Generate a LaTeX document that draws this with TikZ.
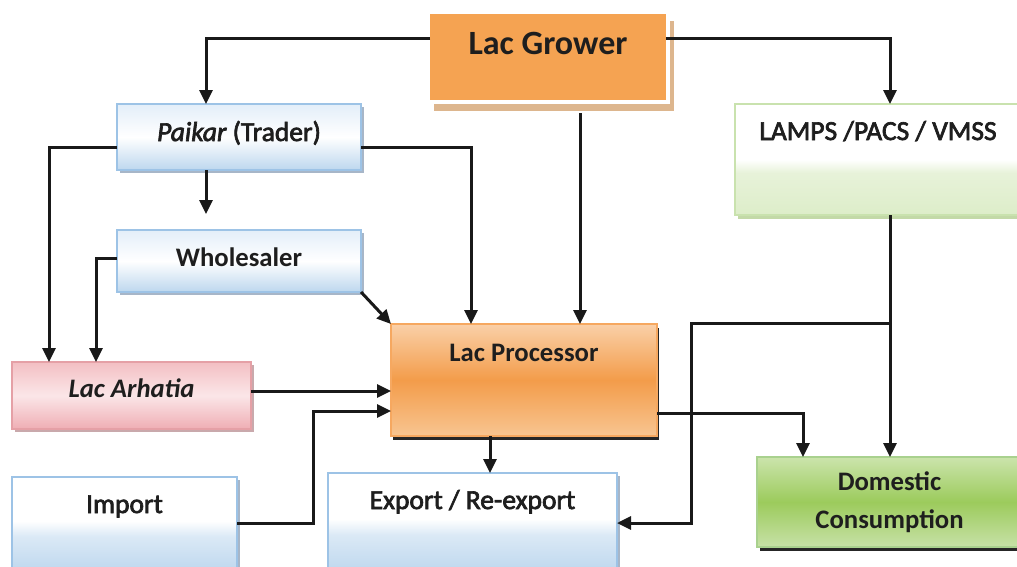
\documentclass[tikz,border=0pt]{standalone}
\usepackage{fontspec}
\setmainfont{Carlito}
\newfontfamily\medfont[FakeBold=2.5]{Carlito}
\usetikzlibrary{arrows.meta,calc,shadows}
\definecolor{txt}{HTML}{1E1E1E}
\definecolor{growerfill}{HTML}{F5A352}
\definecolor{growershadow}{HTML}{DDB68E}
\definecolor{blueborder}{HTML}{9DC3E6}
\definecolor{bluebottom}{HTML}{BDD7EE}
\definecolor{bluetop}{HTML}{E3EEF9}
\definecolor{blueshadow}{HTML}{A7B6C8}
\definecolor{greenborder}{HTML}{C9E2AE}
\definecolor{greenbottom}{HTML}{DDEDC9}
\definecolor{greenshadow}{HTML}{C3D9A8}
\definecolor{pinkborder}{HTML}{E5A0A6}
\definecolor{pinktop}{HTML}{F3BFC3}
\definecolor{pinkmid}{HTML}{FBE6E8}
\definecolor{pinkbottom}{HTML}{EFAEB4}
\definecolor{pinkshadow}{HTML}{C9A9AC}
\definecolor{proctop}{HTML}{FAD0A8}
\definecolor{procmid}{HTML}{F39C4A}
\definecolor{procbottom}{HTML}{F8C591}
\definecolor{procborder}{HTML}{F6A860}
\definecolor{domtop}{HTML}{CBE4AC}
\definecolor{dommid}{HTML}{9CCB5C}
\definecolor{dombottom}{HTML}{C7E1A7}
\definecolor{domborder}{HTML}{A9D18E}
\pgfdeclareverticalshading{bluehalf}{100bp}{color(0bp)=(bluebottom); color(25bp)=(bluebottom); color(44bp)=(bluebottom!55!white); color(52bp)=(white); color(100bp)=(white)}
\pgfdeclareverticalshading{greenhalf}{100bp}{color(0bp)=(greenbottom); color(25bp)=(greenbottom); color(44bp)=(greenbottom!70!white); color(50bp)=(white); color(100bp)=(white)}
\tikzset{
  base/.style={rectangle, inner xsep=0pt, inner ysep=0pt, outer sep=0pt,
    anchor=north west, text=txt, font=\medfont\fontsize{27.5}{32}\selectfont},
  boldtext/.style={font=\bfseries\fontsize{26.7}{32}\selectfont},
  growerbox/.style={base, draw=white, line width=4pt, fill=growerfill,
    font=\bfseries\fontsize{34}{38}\selectfont,
    general shadow={shadow xshift=6pt, shadow yshift=-9pt, fill=growershadow}},
  bluebox/.style={base, draw=blueborder, line width=1.5pt, top color=bluetop, bottom color=bluebottom, middle color=white,
    drop shadow={shadow xshift=3pt, shadow yshift=-3pt, fill=blueshadow, opacity=1}},
  halfbluebox/.style={base, draw=blueborder, line width=1.5pt, shading=bluehalf,
    drop shadow={shadow xshift=3pt, shadow yshift=-3pt, fill=blueshadow, opacity=1}},
  lampsbox/.style={base, draw=greenborder, line width=1.5pt, shading=greenhalf,
    drop shadow={shadow xshift=3pt, shadow yshift=-4pt, fill=greenshadow, opacity=1}},
  pinkbox/.style={base, draw=pinkborder, line width=1.5pt, top color=pinktop, bottom color=pinkbottom, middle color=pinkmid,
    drop shadow={shadow xshift=3pt, shadow yshift=-3pt, fill=pinkshadow, opacity=1}},
  procbox/.style={base, draw=procborder, line width=1.5pt, top color=proctop, bottom color=procbottom, middle color=procmid,
    drop shadow={shadow xshift=2pt, shadow yshift=-4pt, fill=black!85, opacity=1}},
  dombox/.style={base, draw=domborder, line width=1.5pt, top color=domtop, bottom color=dombottom, middle color=dommid,
    drop shadow={shadow xshift=3pt, shadow yshift=-4pt, fill=black!85, opacity=1}},
  arr/.style={draw=black!90, line width=3pt, -{Triangle[length=14pt,width=13pt]}},
}
\begin{document}
\begin{tikzpicture}[x=1pt,y=-1pt]
\useasboundingbox (0,0) rectangle (1017,566);
\fill[white] (0,0) rectangle (1017,566);
\clip (0,0) rectangle (1017,566);

\node[growerbox, minimum width=240pt, text height=42pt, text depth=48pt] (grower) at (428,12) {Lac Grower};
\node[bluebox, minimum width=244pt, text height=37pt, text depth=29pt] (paikar) at (117,104) {{\itshape Paikar} (Trader)};
\node[bluebox, minimum width=244pt, text height=36pt, text depth=26pt, boldtext] (wholesaler) at (117,230) {Wholesaler};
\node[lampsbox, minimum width=286pt, text height=36pt, text depth=75pt] (lamps) at (735,104) {LAMPS /PACS / VMSS};
\node[pinkbox, minimum width=239pt, text height=35pt, text depth=32pt, font=\bfseries\itshape\fontsize{26.7}{32}\selectfont] (arhatia) at (12,362) {Lac Arhatia};
\node[procbox, minimum width=266pt, text height=37pt, text depth=75pt, boldtext] (processor) at (391,324) {Lac Processor};
\node[halfbluebox, minimum width=225pt, text height=36pt, text depth=60pt] (import) at (12,477) {Import};
\node[halfbluebox, minimum width=289pt, text height=36pt, text depth=64pt] (export) at (328,473) {Export / Re-export};
\node[dombox, minimum width=265pt, minimum height=90pt, align=center, font=\bfseries\fontsize{26.7}{38}\selectfont] (domestic) at (757,457) {Domestic\\Consumption};

\coordinate (gd) at ($(grower.south west)+(152,11)$);
\coordinate (jn) at ($(lamps.south west)+(155,108)$);

\draw[arr] ($(grower.north west)+(2,26)$) -| ($(paikar.north west)+(89,0)$);
\draw[arr] ($(grower.north east)+(-2,26)$) -| ($(lamps.north west)+(155,0)$);
\draw[arr] (gd) -- (gd |- processor.north);
\draw[arr] ($(paikar.north east)+(0,43)$) -| ($(processor.north west)+(80,0)$);
\draw[arr] ($(paikar.north west)+(0,43)$) -| ($(arhatia.north west)+(37,0)$);
\draw[arr] ($(paikar.south west)+(89,0)$) -- ($(wholesaler.north west)+(89,-16)$);
\draw[arr] ($(wholesaler.north west)+(0,28)$) -| ($(arhatia.north west)+(84,0)$);
\draw[arr] (wholesaler.south east) -- (processor.north west);
\draw[arr] ($(arhatia.north east)+(0,29)$) -- ($(processor.north west)+(0,67)$);
\draw[arr] ($(import.north east)+(0,46)$) -| ($(processor.north west)+(-78,87)$) -- ($(processor.north west)+(0,87)$);
\draw[arr] ($(processor.south west)+(99,0)$) -- ($(export.north west)+(162,0)$);
\draw[arr] ($(processor.north east)+(0,89)$) -| ($(domestic.north west)+(46,0)$);
\draw[arr] ($(lamps.south west)+(155,0)$) -- ($(domestic.north west)+(133,0)$);
\draw[arr] (jn) -| ($(export.north east)+(74,50)$) -- ($(export.north east)+(0,50)$);
\end{tikzpicture}
\end{document}
